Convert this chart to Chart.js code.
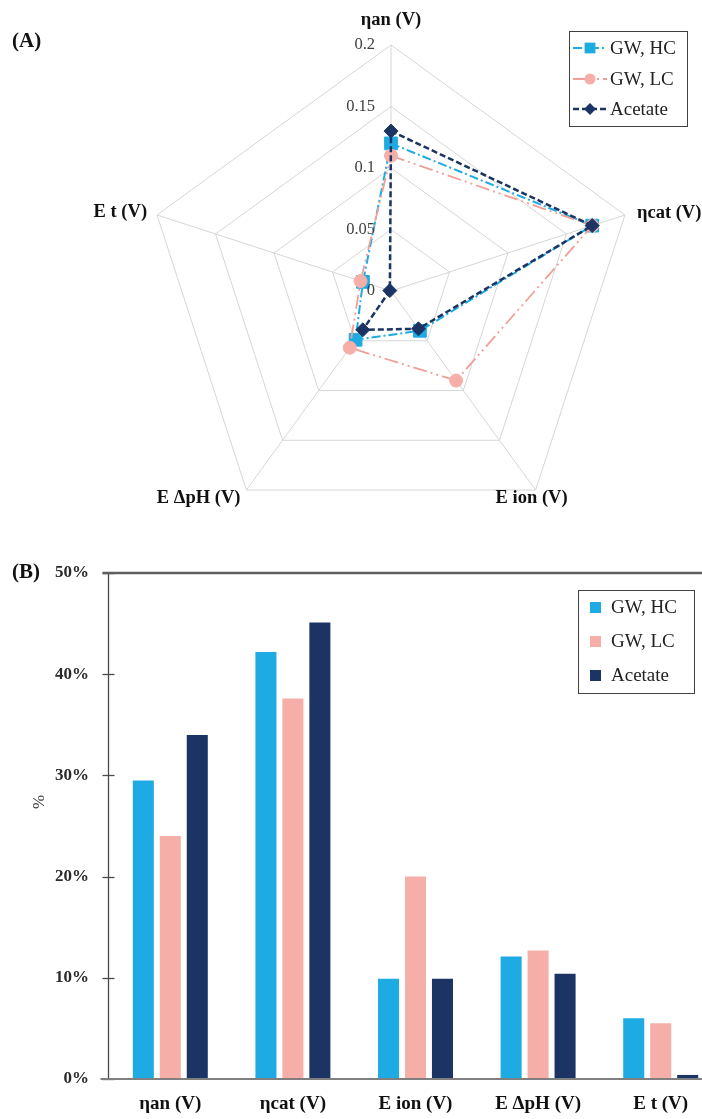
<!DOCTYPE html>
<html>
<head>
<meta charset="utf-8">
<script src="https://cdn.jsdelivr.net/npm/chart.js@4.4.1/dist/chart.umd.min.js"></script>
<style>
  html, body { margin: 0; padding: 0; background: #fff; width: 702px; height: 1119px; overflow: hidden; }
  #radarWrap { position: absolute; left: 0; top: 0; width: 702px; height: 540px; }
  #barWrap { position: absolute; left: 0; top: 540px; width: 702px; height: 579px; overflow: hidden; }
  canvas { display: block; }
</style>
</head>
<body>
<div id="radarWrap"><canvas id="radar" width="702" height="540"></canvas></div>
<div id="barWrap"><canvas id="bars" width="760" height="579"></canvas></div>
<script>
// Voltage-loss components (axes of the radar, categories of the bar chart)
const categories = ['ηan (V)', 'ηcat (V)', 'E ion (V)', 'E ΔpH (V)', 'E t (V)'];
const seriesNames = ['GW, HC', 'GW, LC', 'Acetate'];

// (A) losses in volts
const voltsHC = [0.120, 0.172, 0.040, 0.049, 0.024];
const voltsLC = [0.110, 0.172, 0.090, 0.057, 0.026];
const voltsAc = [0.130, 0.172, 0.038, 0.039, 0.001];
const radarTicks = [0, 0.05, 0.1, 0.15, 0.2];
const radarTickLabels = ['0', '0.05', '0.1', '0.15', '0.2'];

// (B) share of the total loss, in percent
const shareHC = [29.5, 42.2, 9.9, 12.1, 6.0];
const shareLC = [24.0, 37.6, 20.0, 12.7, 5.5];
const shareAc = [34.0, 45.1, 9.9, 10.4, 0.4];
const barTicks = [0, 10, 20, 30, 40, 50];
const barTickLabels = ['0%', '10%', '20%', '30%', '40%', '50%'];

const serif = "'Liberation Serif', 'Times New Roman', serif";
const cHC = '#1eabe3', cLC = '#f5aea8', cLCline = '#f09f97', cAc = '#1c3464';

function markerPath(ctx, style, r, x, y) {
  ctx.beginPath();
  if (style === 'rect') {
    const h = Math.SQRT1_2 * r;
    ctx.rect(x - h, y - h, 2 * h, 2 * h);
  } else if (style === 'rectRot') {
    ctx.moveTo(x, y - r); ctx.lineTo(x + r, y); ctx.lineTo(x, y + r); ctx.lineTo(x - r, y); ctx.closePath();
  } else {
    ctx.arc(x, y, r, 0, Math.PI * 2);
  }
}

// ---------- (A) radar ----------
const radarStyles = [
  { label: seriesNames[0], data: voltsHC, borderColor: cHC, pointBackgroundColor: cHC, pointBorderColor: cHC,
    borderWidth: 2, borderDash: [9, 3, 2, 3], pointStyle: 'rect', pointRadius: 9, order: 2 },
  { label: seriesNames[1], data: voltsLC, borderColor: cLCline, pointBackgroundColor: cLC, pointBorderColor: cLC,
    borderWidth: 1.8, borderDash: [14, 4, 2, 4, 2, 4], pointStyle: 'circle', pointRadius: 6.5, order: 1 },
  { label: seriesNames[2], data: voltsAc, borderColor: cAc, pointBackgroundColor: cAc, pointBorderColor: cAc,
    borderWidth: 2.5, borderDash: [6, 3], pointStyle: 'rectRot', pointRadius: 7, order: 0 }
];
radarStyles.forEach(d => { d.fill = false; d.backgroundColor = 'rgba(0,0,0,0)'; d.pointBorderWidth = 1; d.tension = 0; });

// where each axis name sits relative to its outer vertex
const radarLabelPlace = [
  { align: 'center', dx: 0, dy: -25 },
  { align: 'left', dx: 12, dy: -2 },
  { align: 'center', dx: -4, dy: 8 },
  { align: 'right', dx: -6, dy: 8 },
  { align: 'right', dx: -10, dy: -3 }
];

const radarDecor = {
  id: 'radarDecor',
  afterDraw(chart) {
    const ctx = chart.ctx, s = chart.scales.r;
    ctx.save();
    ctx.textBaseline = 'middle';
    // value ticks on the vertical axis
    ctx.font = '16.5px ' + serif; ctx.fillStyle = '#404040'; ctx.textAlign = 'right';
    radarTicks.forEach((v, i) => {
      ctx.fillText(radarTickLabels[i], s.xCenter - 16, s.yCenter - s.getDistanceFromCenterForValue(v));
    });
    // axis names
    ctx.font = 'bold 18.5px ' + serif; ctx.fillStyle = '#111';
    categories.forEach((c, i) => {
      const p = s.getPointPosition(i, s.drawingArea);
      const o = radarLabelPlace[i];
      ctx.textAlign = o.align;
      ctx.fillText(c, p.x + o.dx, p.y + o.dy);
    });
    // panel letter
    ctx.font = 'bold 21px ' + serif; ctx.textAlign = 'left'; ctx.fillStyle = '#111';
    ctx.fillText('(A)', 12, 42);
    // legend
    ctx.strokeStyle = '#404040'; ctx.lineWidth = 1;
    ctx.strokeRect(569.5, 31.5, 118, 95);
    const rows = [48, 79, 109];
    radarStyles.forEach((d, i) => {
      const y = rows[i];
      ctx.strokeStyle = d.borderColor; ctx.lineWidth = d.borderWidth;
      ctx.setLineDash(d.borderDash);
      ctx.beginPath(); ctx.moveTo(573, y); ctx.lineTo(607, y); ctx.stroke();
      ctx.setLineDash([]);
      ctx.fillStyle = d.pointBackgroundColor;
      markerPath(ctx, d.pointStyle, d.pointRadius * 0.85, 590, y);
      ctx.fill();
      ctx.fillStyle = '#222'; ctx.font = '19px ' + serif; ctx.textAlign = 'left';
      ctx.fillText(d.label, 610, y + 1);
    });
    ctx.restore();
  }
};

new Chart(document.getElementById('radar'), {
  type: 'radar',
  data: { labels: categories, datasets: radarStyles },
  options: {
    responsive: false, animation: false, events: [],
    layout: { padding: { left: 145, right: 65, top: 45, bottom: 3 } },
    plugins: { legend: { display: false }, tooltip: { enabled: false } },
    scales: {
      r: {
        min: 0, max: 0.2,
        ticks: { display: false, stepSize: 0.05 },
        grid: { color: '#d6d6d6', lineWidth: 1 },
        angleLines: { color: '#d6d6d6', lineWidth: 1 },
        pointLabels: { display: false }
      }
    }
  },
  plugins: [radarDecor]
});

// ---------- (B) grouped bars ----------
const barColors = [cHC, cLC, cAc];
const barSets = [shareHC, shareLC, shareAc].map((vals, i) => ({
  label: seriesNames[i], data: vals, backgroundColor: barColors[i], borderWidth: 0,
  barPercentage: 0.78, categoryPercentage: 0.66
}));

function seg(ctx, x1, y1, x2, y2) { ctx.beginPath(); ctx.moveTo(x1, y1); ctx.lineTo(x2, y2); ctx.stroke(); }

const barDecor = {
  id: 'barDecor',
  afterDraw(chart) {
    const ctx = chart.ctx, ys = chart.scales.y, xs = chart.scales.x, area = chart.chartArea;
    const yTop = ys.getPixelForValue(50), y0 = ys.getPixelForValue(0);
    const ax = area.left - 0.5;
    ctx.save();
    // vertical axis and its crossing tick marks
    ctx.strokeStyle = '#4a4a4a'; ctx.lineWidth = 1.3;
    seg(ctx, ax, yTop, ax, y0);
    barTicks.forEach(v => { const py = Math.round(ys.getPixelForValue(v)) + 0.5; seg(ctx, ax - 6, py, ax + 6, py); });
    // top rule and baseline
    ctx.strokeStyle = '#5f5f5f'; ctx.lineWidth = 2.5;
    seg(ctx, ax - 6, yTop, chart.width, yTop);
    ctx.strokeStyle = '#7f7f7f'; ctx.lineWidth = 2;
    seg(ctx, ax - 8, y0, chart.width, y0);
    // value ticks
    ctx.textBaseline = 'middle';
    ctx.font = 'bold 17px ' + serif; ctx.fillStyle = '#2b2b2b'; ctx.textAlign = 'right';
    barTicks.forEach((v, i) => ctx.fillText(barTickLabels[i], 89, ys.getPixelForValue(v)));
    // axis title
    ctx.save();
    ctx.translate(40, 262); ctx.rotate(-Math.PI / 2);
    ctx.font = '17px ' + serif; ctx.fillStyle = '#404040'; ctx.textAlign = 'center';
    ctx.fillText('%', 0, 0);
    ctx.restore();
    // category names
    ctx.font = 'bold 19px ' + serif; ctx.fillStyle = '#111'; ctx.textAlign = 'center';
    categories.forEach((c, i) => ctx.fillText(c, xs.getPixelForValue(i), 564));
    // panel letter
    ctx.font = 'bold 21px ' + serif; ctx.textAlign = 'left';
    ctx.fillText('(B)', 12, 33);
    // legend
    ctx.strokeStyle = '#404040'; ctx.lineWidth = 1;
    ctx.strokeRect(578.5, 50.5, 116, 103);
    const rows = [67.5, 101.5, 135.5];
    barSets.forEach((d, i) => {
      ctx.fillStyle = d.backgroundColor;
      ctx.fillRect(590, rows[i] - 5.5, 11, 11);
      ctx.fillStyle = '#222'; ctx.font = '19px ' + serif;
      ctx.fillText(d.label, 611, rows[i] + 1);
    });
    ctx.restore();
  }
};

new Chart(document.getElementById('bars'), {
  type: 'bar',
  data: { labels: categories, datasets: barSets },
  options: {
    responsive: false, animation: false, events: [],
    layout: { padding: { left: 109, right: 38, top: 33, bottom: 40 } },
    plugins: { legend: { display: false }, tooltip: { enabled: false } },
    scales: {
      x: { display: false },
      y: { display: false, min: 0, max: 50, ticks: { stepSize: 10 } }
    }
  },
  plugins: [barDecor]
});
</script>
</body>
</html>
